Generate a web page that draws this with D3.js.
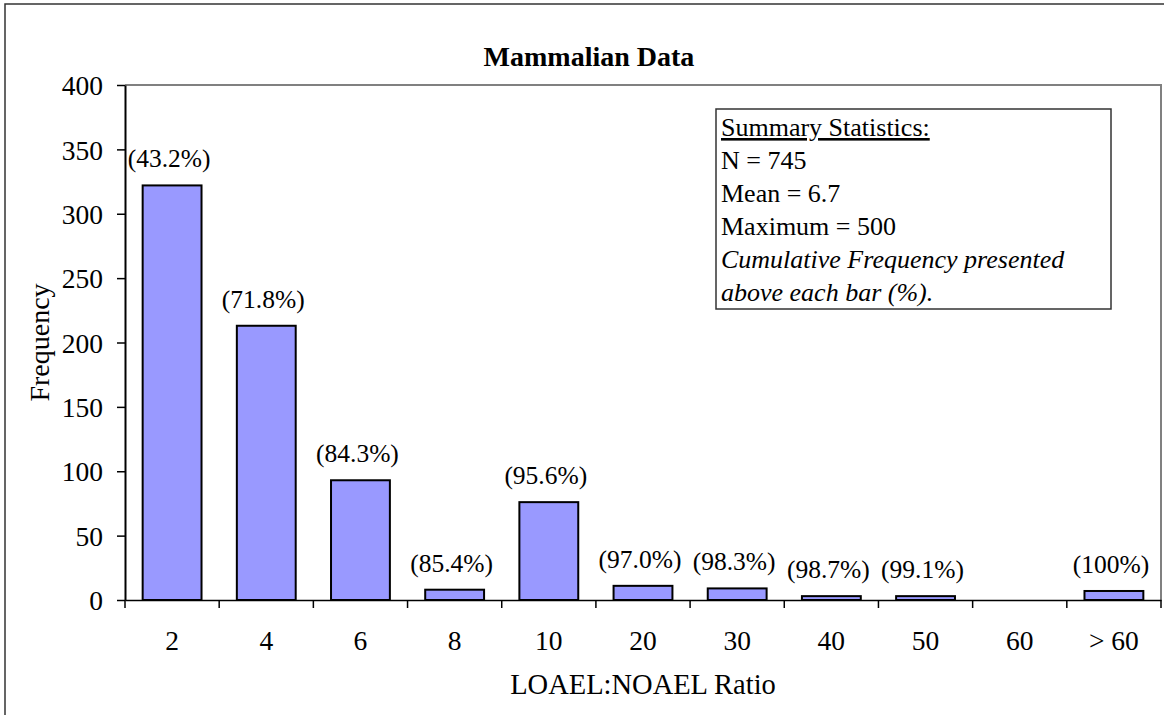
<html>
<head>
<script src="https://d3js.org/d3.v7.min.js"></script>
<style>
    body { margin: 0; background: white; }
    svg text { font-family: "Liberation Serif", "Times New Roman", serif; fill: black; }
    .bar { fill: #9999ff; stroke: black; stroke-width: 2px; }
    .frame { fill: none; stroke: #808080; stroke-width: 2px; }
</style>
</head>
<body>
<svg id="chart" width="1164" height="715"></svg>
<script>
    // categories (LOAEL:NOAEL ratio bins)
    const categories = ["2", "4", "6", "8", "10", "20", "30", "40", "50", "60", "> 60"];
    // frequency in each bin
    const frequency = [322, 213, 93, 8, 76, 11, 9, 3, 3, 0, 7];
    // cumulative frequency labels shown above bars
    const cumLabels = ["(43.2%)", "(71.8%)", "(84.3%)", "(85.4%)", "(95.6%)", "(97.0%)", "(98.3%)", "(98.7%)", "(99.1%)", "", "(100%)"];
    const yTicks = [0, 50, 100, 150, 200, 250, 300, 350, 400];
    const statsLines = ["N = 745", "Mean = 6.7", "Maximum = 500"];
    const noteLines = ["Cumulative Frequency presented", "above each bar (%)."];

    const svg = d3.select("#chart");
    const margin = { top: 85, right: 3, bottom: 115, left: 125 };
    const width = 1164 - margin.left - margin.right;
    const height = 715 - margin.top - margin.bottom;

    // outer chart border
    svg.append("rect")
        .attr("x", 5).attr("y", 4)
        .attr("width", 1200).attr("height", 800)
        .attr("fill", "none")
        .attr("stroke", "#333")
        .attr("stroke-width", 1.5);

    const g = svg.append("g").attr("transform", "translate(" + margin.left + "," + margin.top + ")");

    const x = d3.scaleBand()
        .domain(categories)
        .range([0, width])
        .paddingInner(0.375)
        .paddingOuter(0.1875);

    const y = d3.scaleLinear().domain([0, 400]).range([height, 0]);

    // plot area frame (top and right)
    g.append("path")
        .attr("class", "frame")
        .attr("d", "M0,0H" + width + "V" + height);

    // bars
    g.selectAll("rect.bar").data(frequency)
        .join("rect")
        .attr("class", "bar")
        .attr("x", (d, i) => x(categories[i]))
        .attr("y", d => y(d))
        .attr("width", x.bandwidth())
        .attr("height", d => height - y(d))
        .style("display", d => d > 0 ? null : "none");

    // cumulative labels
    g.selectAll("text.cum").data(frequency)
        .join("text")
        .attr("class", "cum")
        .attr("x", (d, i) => x(categories[i]) + x.bandwidth() / 2 - 3)
        .attr("y", d => y(d) - 18)
        .attr("text-anchor", "middle")
        .style("font-size", "25.5px")
        .text((d, i) => cumLabels[i]);

    // y axis
    const yAxis = g.append("g")
        .call(d3.axisLeft(y).tickValues(yTicks).tickSize(8).tickPadding(14).tickSizeOuter(0));
    yAxis.select(".domain").attr("stroke", "black").attr("stroke-width", 2);
    yAxis.selectAll(".tick line").attr("stroke", "black").attr("stroke-width", 1.5);
    yAxis.selectAll("text").style("font-size", "27.5px").attr("dy", "0.35em");

    // x axis
    const xAxis = g.append("g")
        .attr("transform", "translate(0," + height + ")")
        .call(d3.axisBottom(x).tickSize(0).tickPadding(30).tickSizeOuter(0));
    xAxis.select(".domain").attr("stroke", "black").attr("stroke-width", 1.5);
    xAxis.selectAll("text").style("font-size", "27.5px");

    // x tick marks at category boundaries
    const step = x.step();
    const edges = d3.range(categories.length + 1).map(i => x(categories[0]) - (step - x.bandwidth()) / 2 + i * step);
    xAxis.selectAll("line.edge").data(edges)
        .join("line")
        .attr("class", "edge")
        .attr("x1", d => d).attr("x2", d => d)
        .attr("y1", 0).attr("y2", 8)
        .attr("stroke", "black")
        .attr("stroke-width", 1.5);

    // titles
    svg.append("text")
        .attr("x", 589).attr("y", 66)
        .attr("text-anchor", "middle")
        .style("font-size", "28px")
        .style("font-weight", "bold")
        .text("Mammalian Data");

    svg.append("text")
        .attr("x", 643).attr("y", 694)
        .attr("text-anchor", "middle")
        .style("font-size", "28.5px")
        .text("LOAEL:NOAEL Ratio");

    svg.append("text")
        .attr("transform", "translate(49," + (margin.top + height / 2) + ") rotate(-90)")
        .attr("text-anchor", "middle")
        .style("font-size", "28px")
        .text("Frequency");

    // summary statistics box
    const box = svg.append("g").attr("transform", "translate(716,109)");
    box.append("rect")
        .attr("width", 395).attr("height", 200)
        .attr("fill", "white")
        .attr("stroke", "#333")
        .attr("stroke-width", 1.5);

    const lineH = 33;
    box.append("text")
        .attr("x", 5).attr("y", 27)
        .style("font-size", "26px")
        .style("text-decoration", "underline")
        .text("Summary Statistics:");

    box.selectAll("text.stat").data(statsLines)
        .join("text")
        .attr("class", "stat")
        .attr("x", 5)
        .attr("y", (d, i) => 27 + (i + 1) * lineH)
        .style("font-size", "26px")
        .text(d => d);

    box.selectAll("text.note").data(noteLines)
        .join("text")
        .attr("class", "note")
        .attr("x", 5)
        .attr("y", (d, i) => 27 + (i + 4) * lineH)
        .style("font-size", "26px")
        .style("font-style", "italic")
        .text(d => d);
</script>
</body>
</html>
